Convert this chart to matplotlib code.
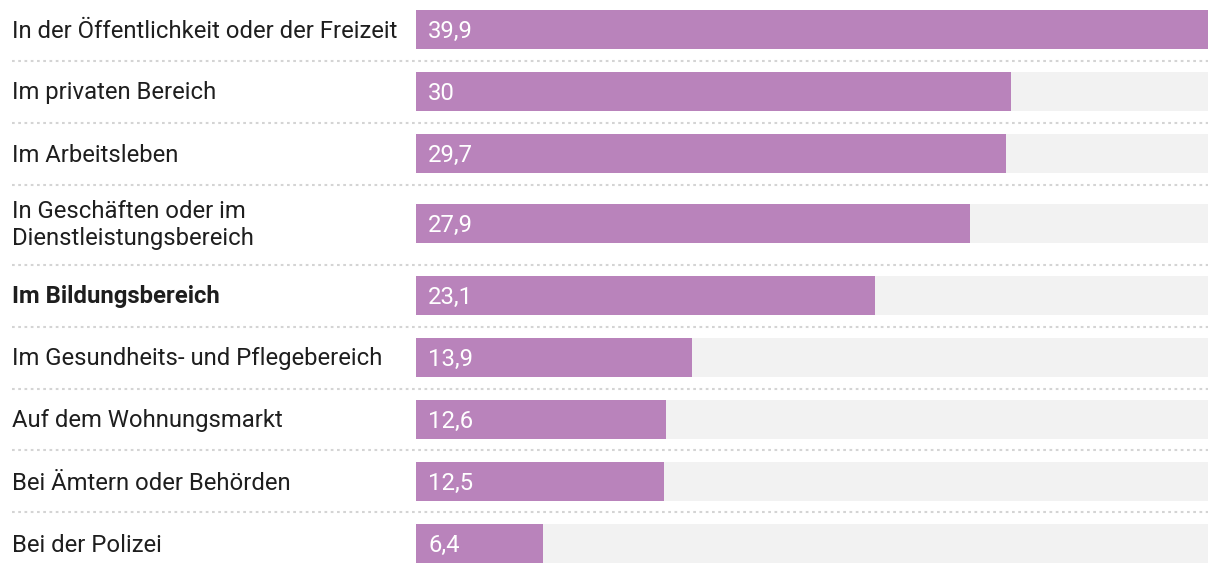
import matplotlib
matplotlib.use("Agg")
import matplotlib.pyplot as plt

categories = [
    "In der Öffentlichkeit oder der Freizeit",
    "Im privaten Bereich",
    "Im Arbeitsleben",
    "In Geschäften oder im\nDienstleistungsbereich",
    "Im Bildungsbereich",
    "Im Gesundheits- und Pflegebereich",
    "Auf dem Wohnungsmarkt",
    "Bei Ämtern oder Behörden",
    "Bei der Polizei",
]
values = [39.9, 30, 29.7, 27.9, 23.1, 13.9, 12.6, 12.5, 6.4]
value_labels = ["39,9", "30", "29,7", "27,9", "23,1", "13,9", "12,6", "12,5", "6,4"]
bold_flags = [False, False, False, False, True, False, False, False, False]

# layout (pixel rows)
W, H = 1220, 574
bar_centers = [29.5, 91.5, 153.5, 223.5, 295.5, 357.5, 419.5, 481.5, 543.5]
separators = [61, 123, 185, 265, 327, 389, 450, 512]
bar_h = 39
x0, x1 = 416, 1208
xmax = 39.9

plt.rcParams['font.family'] = ['Roboto', 'DejaVu Sans']

fig = plt.figure(figsize=(W / 100, H / 100), dpi=100)
fig.patch.set_facecolor("white")

bg = fig.add_axes([0, 0, 1, 1])
bg.set_xlim(0, W)
bg.set_ylim(H, 0)
bg.axis("off")
for y in separators:
    bg.plot([12, x1], [y, y], color="#d4d4d4", lw=1.5, linestyle=(0, (1.3, 1.7)),
            solid_capstyle="butt", dash_capstyle="butt")

fs = 17.2
for cat, yc, b in zip(categories, bar_centers, bold_flags):
    bg.text(12, yc + 1.5, cat, ha="left", va="center", fontsize=fs,
            fontweight="bold" if b else "normal", color="#1e1e1e",
            linespacing=1.22)

ax = fig.add_axes([x0 / W, 0, (x1 - x0) / W, 1])
ax.set_xlim(0, xmax)
ax.set_ylim(H, 0)
ax.axis("off")
ax.barh(bar_centers, [xmax] * len(values), height=bar_h, color="#f2f2f2", left=0)
ax.barh(bar_centers, values, height=bar_h, color="#b983bb", left=0)
for yc, lab in zip(bar_centers, value_labels):
    ax.text(12 / (x1 - x0) * xmax, yc + 1.5, lab, ha="left", va="center",
            fontsize=fs, color="white")

fig.savefig("out.png", dpi=100, facecolor="white")
